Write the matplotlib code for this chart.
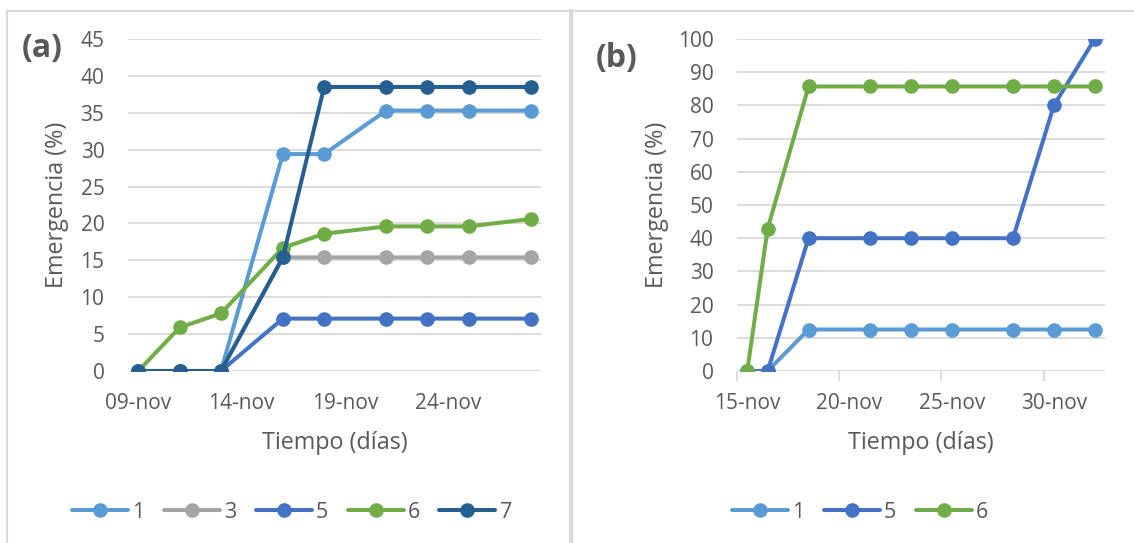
import matplotlib.pyplot as plt
from matplotlib.lines import Line2D

plt.rcParams['font.family'] = ['Open Sans', 'DejaVu Sans']

gris_texto = '#595959'
gris_rejilla = '#D9D9D9'
colores = {'1': '#5B9BD5', '3': '#A5A5A5', '5': '#4472C4',
           '6': '#70AD47', '7': '#255E91'}

# (a) dias de noviembre y emergencia acumulada (%)
dias_a = [9, 11, 13, 16, 18, 21, 23, 25, 28]
emerg_a = {
    '1': [0, 0, 0, 29.4, 29.4, 35.3, 35.3, 35.3, 35.3],
    '3': [0, 0, 0, 15.4, 15.4, 15.4, 15.4, 15.4, 15.4],
    '5': [0, 0, 0, 7.1, 7.1, 7.1, 7.1, 7.1, 7.1],
    '6': [0, 5.9, 7.8, 16.7, 18.6, 19.6, 19.6, 19.6, 20.6],
    '7': [0, 0, 0, 15.4, 38.5, 38.5, 38.5, 38.5, 38.5],
}
marcas_a = [9, 14, 19, 24]

# (b) dias desde el 1 de noviembre (32 = 2 de diciembre)
dias_b = [15, 16, 18, 21, 23, 25, 28, 30, 32]
emerg_b = {
    '1': [0, 0, 12.5, 12.5, 12.5, 12.5, 12.5, 12.5, 12.5],
    '5': [0, 0, 40, 40, 40, 40, 40, 80, 100],
    '6': [0, 42.9, 85.7, 85.7, 85.7, 85.7, 85.7, 85.7, 85.7],
}
marcas_b = [15, 20, 25, 30]

W, H = 1134, 543
fig = plt.figure(figsize=(W / 100, H / 100), dpi=100)


def caja(x0, y0, x1, y1):
    return fig.add_axes([x0 / W, 1 - y1 / H, (x1 - x0) / W, (y1 - y0) / H])


def linea(xs, ys, lw=1.5):
    fig.add_artist(Line2D([x / W for x in xs], [1 - y / H for y in ys],
                          transform=fig.transFigure, color=gris_rejilla, lw=lw))


# marcos de los dos graficos
linea([7, 7], [543, 11])
linea([7, 1134], [11, 11])
linea([571, 571], [11, 543], lw=3)


def panel(ax, dias, series, marcas, xmax, ymax, paso, letra, letra_xy, ylab_x, tick_marks):
    for nombre, vals in series.items():
        ax.plot([d + 0.5 for d in dias], vals, color=colores[nombre], lw=2.9,
                marker='o', ms=9.5, label=nombre, solid_capstyle='round')
    ax.set_xlim(marcas[0], xmax)
    ax.set_ylim(0, ymax)
    ax.set_yticks(range(0, ymax + 1, paso))
    ax.yaxis.grid(True, color=gris_rejilla, lw=1.3)
    ax.set_axisbelow(True)
    for s in ax.spines.values():
        s.set_visible(False)
    ax.set_xticks(marcas)
    ax.set_xticklabels([])
    ax.tick_params(axis='x', which='major', length=7 if tick_marks else 0,
                   color=gris_rejilla, width=1.3)
    ax.set_xticks([m + 0.5 for m in marcas], minor=True)
    ax.set_xticklabels(['%02d-nov' % m for m in marcas], minor=True)
    ax.tick_params(axis='x', which='minor', length=0, pad=16,
                   labelsize=15, labelcolor=gris_texto)
    ax.tick_params(axis='y', length=0, pad=17, labelsize=15, labelcolor=gris_texto)
    ax.set_xlabel('Tiempo (días)', fontsize=16.8, color=gris_texto)
    ax.xaxis.set_label_coords(0.5, -0.216)
    ax.xaxis.label.set_va('center')
    ax.set_ylabel('Emergencia (%)', fontsize=16.8, color=gris_texto)
    ax.yaxis.set_label_coords(ylab_x, 0.5)
    ax.yaxis.label.set_va('center')
    fig.text(letra_xy[0] / W, 1 - letra_xy[1] / H, letra, fontsize=23,
             fontweight='bold', color=gris_texto, ha='center', va='center')


def leyenda(ax, cx, ncol):
    ax.legend(loc='center', bbox_to_anchor=(cx / W, 1 - 512 / H),
              bbox_transform=fig.transFigure, ncol=ncol, frameon=False,
              handlelength=2.6, handletextpad=0.2, columnspacing=0.9,
              fontsize=15.5, labelcolor=gris_texto)


ax_a = caja(128, 39, 541, 371)
panel(ax_a, dias_a, emerg_a, marcas_a, 29, 45, 5, '(a)', (42, 48), -0.172, False)
leyenda(ax_a, 292, 5)

ax_b = caja(737, 39, 1105, 371)
panel(ax_b, dias_b, emerg_b, marcas_b, 33, 100, 10, '(b)', (617, 58), -0.217, True)
leyenda(ax_b, 860, 3)

fig.savefig('out.png', dpi=100)
